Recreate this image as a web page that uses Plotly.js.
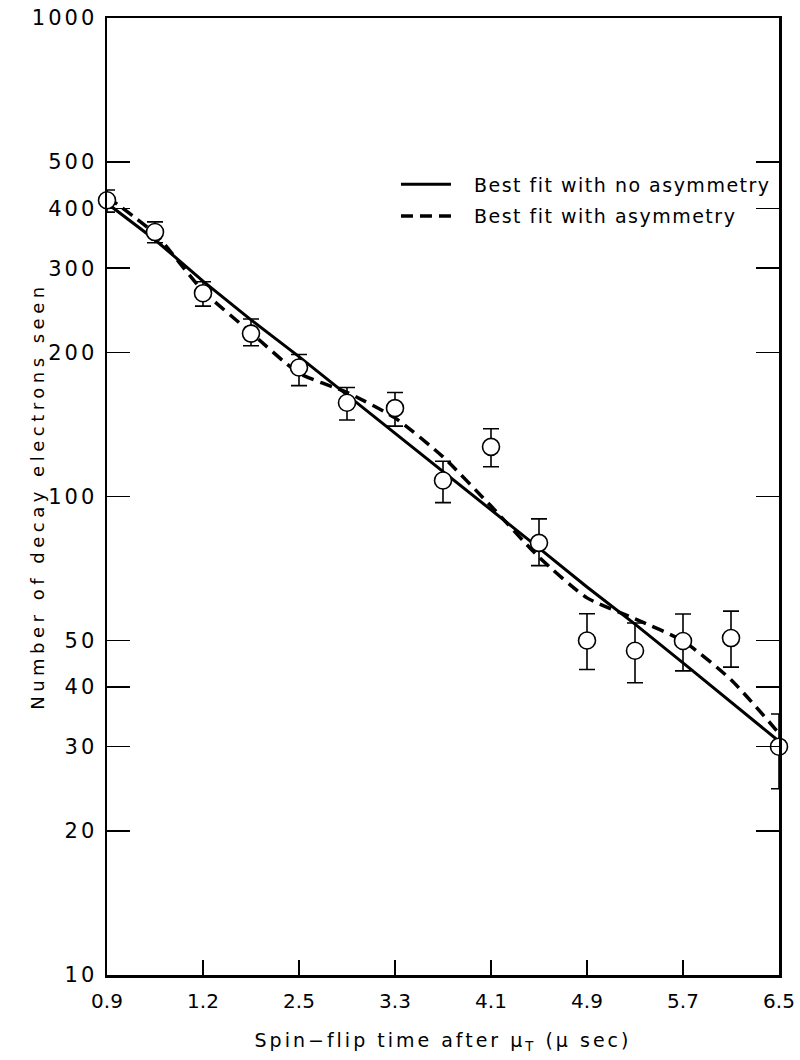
<!DOCTYPE html>
<html>
<head>
<meta charset="utf-8">
<script src="https://cdn.plot.ly/plotly-3.0.1.min.js"></script>
<style>
html,body{margin:0;padding:0;background:#fff;}
#chart{width:800px;height:1060px;}
#chart .ytick text{letter-spacing:3px;}
#chart .xtitle{letter-spacing:3px;}
#chart .annotation-text{letter-spacing:4.5px;}
#chart .legendtext{letter-spacing:1.5px;}
</style>
</head>
<body>
<div id="chart"></div>
<script>
// Measured spin-flip times (µs) and counts
const times = [0.9, 1.3, 1.7, 2.1, 2.5, 2.9, 3.3, 3.7, 4.1, 4.5, 4.9, 5.3, 5.7, 6.1, 6.5];
const counts = [416, 357, 266, 219, 186, 157, 153, 108, 127, 80, 50, 47.6, 49.9, 50.6, 30];
const errUp = [21, 18, 15, 16, 12, 12, 12, 10.5, 11.5, 9.8, 6.9, 6.8, 6.9, 7.0, 5.1];
const errDown = [23, 18, 16, 12.5, 15.5, 12.5, 12.7, 10.9, 11.6, 8.3, 6.5, 6.8, 6.7, 6.6, 5.5];

// Best fit with no asymmetry
const fitNoAsym = [410, 344, 282, 234, 196, 163, 136, 113, 93.7, 78, 64.7, 54.1, 44.9, 37.2, 30.8];
// Best fit with asymmetry
const fitAsym = [423, 354, 269, 220, 181, 165, 146, 121, 95.5, 74.7, 61.4, 55.5, 49.9, 41.4, 32.0];

const xTickVals = [0.9, 1.7, 2.5, 3.3, 4.1, 4.9, 5.7, 6.5];
const xTickText = ["0.9", "1.2", "2.5", "3.3", "4.1", "4.9", "5.7", "6.5"];
const yTickVals = [10, 20, 30, 40, 50, 100, 200, 300, 400, 500, 1000];
const yTickText = ["10", "20", "30", "40", "50", "100", "200", "300", "400", "500", "1000"];

const legendNames = ["Best fit with no asymmetry", "Best fit with asymmetry"];
const xTitle = "Spin\u2212flip time after \u03bc<sub>T</sub> (\u03bc sec)";
const yTitle = "Number of decay electrons seen";

const font = "DejaVu Sans, Verdana, sans-serif";

const traces = [
  {
    x: times, y: fitNoAsym, type: "scatter", mode: "lines",
    name: legendNames[0], legendgroup: "a",
    line: {color: "#000", width: 3},
    hoverinfo: "skip"
  },
  {
    x: times, y: fitAsym, type: "scatter", mode: "lines",
    name: legendNames[1], legendgroup: "b",
    line: {color: "#000", width: 3.5, dash: "12px,7px", shape: "spline", smoothing: 0.6},
    hoverinfo: "skip"
  },
  {
    x: times, y: counts, type: "scatter", mode: "markers",
    showlegend: false,
    cliponaxis: false,
    marker: {symbol: "circle", size: 17, color: "#fff", line: {color: "#000", width: 1.6}},
    error_y: {type: "data", symmetric: false, array: errUp, arrayminus: errDown,
              color: "#000", thickness: 1.6, width: 8}
  }
];

const layout = {
  width: 800, height: 1060,
  margin: {l: 107, r: 21, t: 18, b: 85},
  paper_bgcolor: "#fff", plot_bgcolor: "#fff",
  font: {family: font, color: "#000"},
  showlegend: true,
  legend: {
    x: 0.43, y: 0.846, xanchor: "left", yanchor: "top",
    bgcolor: "rgba(0,0,0,0)", borderwidth: 0,
    font: {family: font, size: 19, color: "#000"},
    tracegroupgap: 4, itemwidth: 50
  },
  xaxis: {
    range: [0.9, 6.5],
    tickmode: "array", tickvals: xTickVals, ticktext: xTickText,
    ticks: "inside", ticklen: 15, tickwidth: 1.5, tickcolor: "#000",
    ticklabelstandoff: 6,
    showline: true, linewidth: 2.5, linecolor: "#000", mirror: true,
    showgrid: false, zeroline: false,
    tickfont: {family: font, size: 20, color: "#000"},
    title: {text: xTitle, font: {family: font, size: 19, color: "#000"}, standoff: 22}
  },
  yaxis: {
    type: "log", range: [1, 3],
    tickmode: "array", tickvals: yTickVals, ticktext: yTickText,
    ticks: "inside", ticklen: 23, tickwidth: 1.5, tickcolor: "#000",
    ticklabelstandoff: 3,
    showline: true, linewidth: 2.5, linecolor: "#000", mirror: "ticks",
    showgrid: false, zeroline: false,
    tickfont: {family: font, size: 21, color: "#000"}
  },
  annotations: [{
    text: yTitle, xref: "paper", yref: "paper",
    x: -0.103, y: 0.5, xanchor: "center", yanchor: "middle",
    textangle: -90, showarrow: false,
    font: {family: font, size: 18, color: "#000"}
  }]
};

Plotly.newPlot("chart", traces, layout, {displayModeBar: false, staticPlot: true}).then(function () {
  document.querySelectorAll("#chart .legend .scrollbox").forEach(function (s) {
    s.removeAttribute("clip-path");
  });
  document.querySelectorAll("#chart .legendtext").forEach(function (t) {
    t.setAttribute("x", String(parseFloat(t.getAttribute("x")) + 18));
  });
});
</script>
</body>
</html>
